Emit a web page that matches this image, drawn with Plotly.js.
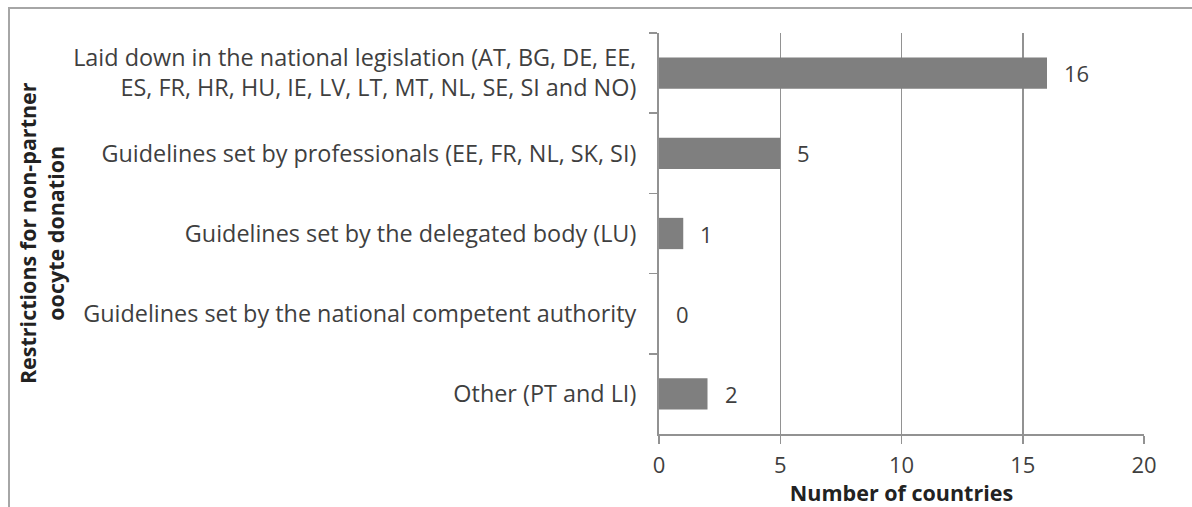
<!DOCTYPE html>
<html>
<head>
<meta charset="utf-8">
<script src="https://cdn.plot.ly/plotly-3.0.1.min.js"></script>
<style>
  html, body { margin: 0; padding: 0; background: #fff; }
  #wrap { position: relative; width: 1192px; height: 507px; overflow: hidden; }
  #chart { position: absolute; left: 0; top: 0; width: 1192px; height: 507px; }
  #frame { position: absolute; left: 8px; top: 7px; width: 1200px; height: 520px;
           border-left: 2px solid #a6a6a6; border-top: 2px solid #a6a6a6; pointer-events: none; }
</style>
</head>
<body>
<div id="wrap">
  <div id="chart"></div>
  <div id="frame"></div>
</div>
<script>
const categories = [
  "Laid down in the national legislation (AT, BG, DE, EE,<br>ES, FR, HR, HU, IE, LV, LT, MT, NL, SE, SI and NO)",
  "Guidelines set by professionals (EE, FR, NL, SK, SI)",
  "Guidelines set by the delegated body (LU)",
  "Guidelines set by the national competent authority",
  "Other (PT and LI)"
];
const counts = [16, 5, 1, 0, 2];
const xTickValues = [0, 5, 10, 15, 20];
const xAxisTitle = "Number of countries";
const yAxisTitle = "Restrictions for non-partner<br>oocyte donation";

const FONT = "Open Sans, Liberation Sans, sans-serif";
const TXT = "#3f3f3f";

const trace = {
  type: "bar",
  orientation: "h",
  x: counts,
  y: categories,
  width: 0.39,
  marker: { color: "#7f7f7f", line: { width: 0 } },
  hoverinfo: "x+y"
};

const valueLabels = counts.map((v, i) => ({
  x: v, y: categories[i], xref: "x", yref: "y",
  text: String(v), showarrow: false,
  xanchor: "left", yanchor: "middle", xshift: 15,
  font: { family: FONT, size: 22, color: TXT }
}));

const layout = {
  width: 1192,
  height: 507,
  margin: { l: 659, r: 48, t: 33, b: 73, pad: 0 },
  paper_bgcolor: "#ffffff",
  plot_bgcolor: "#ffffff",
  showlegend: false,
  font: { family: FONT, size: 22, color: TXT },
  xaxis: {
    range: [0, 20],
    tickvals: xTickValues,
    ticktext: xTickValues.map(String),
    showgrid: true,
    gridcolor: "#929292",
    gridwidth: 1.5,
    zeroline: false,
    showline: true,
    linecolor: "#929292",
    linewidth: 2,
    ticks: "outside",
    ticklen: 8,
    tickcolor: "#929292",
    tickwidth: 1.5,
    tickfont: { family: FONT, size: 22, color: TXT },
    ticklabelstandoff: 3,
    title: { text: xAxisTitle, font: { family: FONT, size: 21.5, color: "#222", weight: "bold" }, standoff: 0 },
    fixedrange: true
  },
  yaxis: {
    type: "category",
    categoryorder: "array",
    categoryarray: categories,
    autorange: "reversed",
    showgrid: false,
    zeroline: false,
    showline: true,
    linecolor: "#929292",
    linewidth: 2,
    ticks: "outside",
    tickson: "boundaries",
    ticklen: 8,
    tickcolor: "#929292",
    tickwidth: 1.5,
    ticklabelstandoff: 16,
    tickfont: { family: FONT, size: 23.4, color: TXT },
    fixedrange: true
  },
  annotations: valueLabels.concat([{
    xref: "paper", yref: "paper",
    x: -1.273, y: 0.5,
    text: yAxisTitle,
    textangle: -90,
    showarrow: false,
    xanchor: "center", yanchor: "middle",
    align: "center",
    font: { family: FONT, size: 21.5, color: "#222", weight: "bold" }
  }])
};

Plotly.newPlot("chart", [trace], layout, { displayModeBar: false, staticPlot: true });
</script>
</body>
</html>
